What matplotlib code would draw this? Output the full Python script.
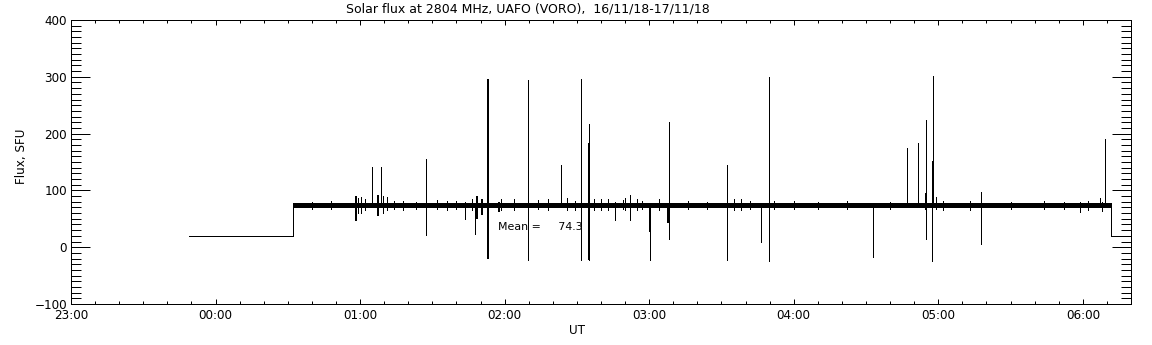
import matplotlib
matplotlib.use("Agg")
import matplotlib.pyplot as plt
from matplotlib.ticker import MultipleLocator, FixedLocator

# ---------------- data (times in hours relative to 00:00 UT of 17/11) -------------
# stepped baseline of the record
level_times = [-0.187, 0.535, 0.535, 6.196, 6.196, 6.32]
level_values = [20, 20, 74, 74, 19, 19]

# quiet-sun band (noisy plateau)
band_start = 0.535
band_end = 6.196
band_value = 74.3

# spikes / bursts: time (minutes after 00:00), low value, high value, width (px)
spike_minutes = [58.5, 59.3, 60.5, 62.0, 64.9, 67.5, 68.8, 69.5, 71.0, 74.0,
                 87.3, 100.0, 103.5, 106.5, 107.5, 108.5, 110.5, 112.9, 113.2, 117.5,
                 118.5, 129.7, 138.0, 143.4, 146.0, 151.5, 151.7, 155.0, 155.2, 160.0,
                 166.0, 170.0, 172.0, 175.0, 180.2, 180.3, 188.0, 188.2, 212.3, 215.0,
                 218.0, 226.4, 229.8, 240.0, 273.0, 287.0, 291.6, 294.8, 295.0, 297.6,
                 297.9, 299.0, 313.0, 317.8, 358.8, 367.0, 368.0, 369.3,
                 40.0, 48.0, 78.0, 83.0, 92.0, 96.0, 124.0, 134.0, 149.0, 157.0,
                 163.0, 169.0, 177.0, 184.0, 196.0, 204.0, 222.0, 232.0, 250.0, 262.0,
                 280.0, 302.0, 330.0, 344.0, 352.0, 362.0]
spike_low = [47, 60, 60, 66, 74, 55, 74, 60, 65, 68,
             21, 67, 50, 66, 24, 50, 57, -20, -20, 62,
             66, -22, 66, 74, 66, 63, -22, -22, -22, 66,
             48, 66, 48, 66, 27, -22, 43, 15, -22, 66,
             65, 10, -24, 68, -17, 74, 74, 65, 15, -24,
             74, 68, 66, 6, 62, 70, 64, 74,
             68, 67, 66, 68, 67, 66, 65, 67, 66, 65,
             66, 67, 68, 66, 67, 68, 67, 68, 68, 67,
             68, 66, 68, 67, 68, 66]
spike_high = [90, 86, 88, 84, 142, 92, 141, 90, 88, 82,
              156, 82, 80, 84, 78, 90, 85, 263, 296, 80,
              84, 294, 84, 145, 86, 187, 296, 183, 217, 84,
              80, 86, 92, 84, 74, 74, 74, 220, 145, 84,
              84, 74, 300, 82, 74, 175, 184, 95, 224, 151,
              301, 88, 81, 98, 80, 87, 80, 190,
              80, 81, 82, 80, 83, 82, 84, 83, 82, 85,
              84, 83, 82, 84, 81, 80, 82, 81, 80, 81,
              80, 82, 80, 81, 80, 82]
spike_width = [2, 1, 1, 1, 1, 1.5, 1, 1, 1, 1,
               1, 1, 1, 1, 1, 1.5, 1.5, 1.5, 2, 2,
               1, 1, 1, 1, 1, 1, 1, 1.5, 1, 1,
               1, 1, 1, 1, 2, 1, 2, 1, 1, 1,
               1, 1, 1, 1, 1, 1, 1, 2, 1, 1,
               1, 1, 1, 1, 1, 1, 1, 1,
               1, 1, 1, 1, 1, 1, 1, 1, 1, 1,
               1, 1, 1, 1, 1, 1, 1, 1, 1, 1,
               1, 1, 1, 1, 1, 1]

mean_flux = 74.3

x_ticks = [-1, 0, 1, 2, 3, 4, 5, 6]
x_tick_labels = ["23:00", "00:00", "01:00", "02:00", "03:00", "04:00", "05:00", "06:00"]
y_ticks = [-100, 0, 100, 200, 300, 400]

title = "Solar flux at 2804 MHz, UAFO (VORO),  16/11/18-17/11/18"
xlabel = "UT"
ylabel = "Flux, SFU"

# ---------------- figure --------------------------------------------------------------
W, H = 1152, 345
DPI = 100
PX = 72.0 / DPI  # points per pixel
plt.rcParams['font.family'] = ['DejaVu Sans']
fig = plt.figure(figsize=(W / DPI, H / DPI), dpi=DPI, facecolor='white')
ax = fig.add_axes([71 / W, (H - 304) / H, 1060 / W, 284 / H])

ax.plot(level_times, level_values, color='black', lw=1 * PX, solid_joinstyle='miter',
        antialiased=False)
ax.plot([band_start, band_end], [band_value, band_value], color='black',
        lw=4.5 * PX, solid_capstyle='butt', antialiased=False)
for m, lo, hi, w in zip(spike_minutes, spike_low, spike_high, spike_width):
    ax.vlines(m / 60.0, lo, hi, color='black', lw=max(1, round(w)) * PX,
              antialiased=False)

ax.set_xlim(-1, 6.3333)
ax.set_ylim(-100, 400)

ax.xaxis.set_major_locator(FixedLocator(x_ticks))
ax.set_xticklabels(x_tick_labels)
ax.xaxis.set_minor_locator(MultipleLocator(1 / 6.0))
ax.yaxis.set_major_locator(FixedLocator(y_ticks))
ax.yaxis.set_minor_locator(MultipleLocator(10))

ax.tick_params(axis='both', which='both', direction='in', top=True, right=True,
               width=1 * PX, color='black', labelsize=12 * PX)
ax.tick_params(axis='x', which='major', length=5 * PX, pad=5 * PX)
ax.tick_params(axis='x', which='minor', length=3 * PX)
ax.tick_params(axis='y', which='major', length=19 * PX, pad=4 * PX)
ax.tick_params(axis='y', which='minor', length=10 * PX)
for s in ax.spines.values():
    s.set_linewidth(1 * PX)
    s.set_antialiased(False)

ax.text(1.951, 36, "Mean =     %.1f" % mean_flux, fontsize=11 * PX,
        ha='left', va='center')

fig.text(528 / W, 1 - 9 / H, title, ha='center', va='center', fontsize=12.5 * PX)
fig.text(577 / W, 1 - 330 / H, xlabel, ha='center', va='center', fontsize=12 * PX)
fig.text(22 / W, 1 - 156 / H, ylabel, ha='center', va='center', rotation=90,
         fontsize=12 * PX)

fig.savefig("out.png", dpi=DPI, facecolor='white')
